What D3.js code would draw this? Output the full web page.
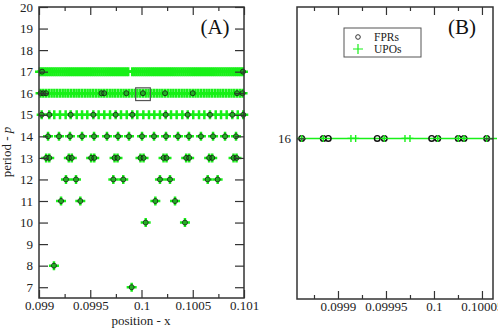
<!DOCTYPE html>
<html><head><meta charset="utf-8">
<script src="https://cdn.jsdelivr.net/npm/d3@7"></script>
<style>
body{margin:0;background:#fff;}
svg{display:block;}
svg text{font-family:"Liberation Serif","Times New Roman","DejaVu Serif",serif;}
</style></head>
<body><svg id="c" width="498" height="330"></svg>
<script>
// ---------- Panel A data (position x for each period p) ----------
const upo7  = [0.099904];
const upo8  = [0.099146];
const upo10 = [0.100041,0.100424];
const upo11 = [0.099215,0.099403,0.100135,0.100327];
const upo12 = [0.099263,0.099361,0.099725,0.099822,0.100180,0.100278,0.100646,0.100743];
const upo13 = [0.099070,0.099100,0.099291,0.099320,0.099509,0.099539,0.099737,0.099766,
               0.099990,0.100020,0.100215,0.100244,0.100436,0.100465,0.100660,0.100690,0.100898,0.100927];
const upo14 = [0.099088,0.099195,0.099302,0.099420,0.099537,0.099663,0.099771,0.099878,0.100005,
               0.100122,0.100239,0.100356,0.100463,0.100580,0.100698,0.100815,0.100922];
const upo15 = [0.099026,0.099100,0.099149,0.099205,0.099260,0.099309,0.099368,0.099420,0.099471,
               0.099530,0.099582,0.099637,0.099693,0.099748,0.099800,0.099856,0.099910,0.099959,
               0.100018,0.100073,0.100125,0.100180,0.100236,0.100288,0.100343,0.100398,0.100451,
               0.100505,0.100561,0.100613,0.100668,0.100724,0.100776,0.100831,0.100886,0.100939,0.100993];
const upo16 = [0.099015,0.099042,0.099069,0.099096,0.099123,0.099150,0.099177,0.099204,0.099231,
               0.099258,0.099285,0.099312,0.099339,0.099366,0.099393,0.099420,0.099447,0.099474,
               0.099501,0.099528,0.099555,0.099582,0.099609,0.099636,0.099663,0.099690,0.099717,
               0.099744,0.099771,0.099798,0.099825,0.099852,0.099879,0.099906,0.099933,0.099960,
               0.099987,0.100014,0.100041,0.100068,0.100095,0.100122,0.100149,0.100176,0.100203,
               0.100230,0.100257,0.100284,0.100311,0.100338,0.100365,0.100392,0.100419,0.100446,
               0.100473,0.100500,0.100527,0.100554,0.100581,0.100608,0.100635,0.100662,0.100689,
               0.100716,0.100743,0.100770,0.100797,0.100824,0.100851,0.100878,0.100905,0.100932,
               0.100959,0.100986];
const upo17 = [0.09901,0.09903,0.09905,0.09907,0.09909,0.09911,0.09913,0.09915,0.09917,0.09919,
               0.09921,0.09923,0.09925,0.09927,0.09929,0.09931,0.09933,0.09935,0.09937,0.09939,
               0.09941,0.09943,0.09945,0.09947,0.09949,0.09951,0.09953,0.09955,0.09957,0.09959,
               0.09961,0.09963,0.09965,0.09967,0.09969,0.09971,0.09973,0.09975,0.09977,0.09979,
               0.09981,0.09983,0.09985,0.09987,0.09991,0.09993,0.09995,0.09997,0.09999,
               0.10001,0.10003,0.10005,0.10007,0.10009,0.10011,0.10013,0.10015,0.10017,0.10019,
               0.10021,0.10023,0.10025,0.10027,0.10029,0.10031,0.10033,0.10035,0.10037,0.10039,
               0.10041,0.10043,0.10045,0.10047,0.10049,0.10051,0.10053,0.10055,0.10057,0.10059,
               0.10061,0.10063,0.10065,0.10067,0.10069,0.10071,0.10073,0.10075,0.10077,0.10079,
               0.10081,0.10083,0.10085,0.10087,0.10089,0.10091,0.10093,0.10095,0.10097,0.10099];
const fpr15 = [0.099026,0.099100,0.099309,0.099530,0.099748,0.099910,0.100236,
               0.100451,0.100668,0.100886,0.100993];
const fpr16 = [0.099015,0.099042,0.099069,0.099609,0.099636,0.099852,0.100014,
               0.100230,0.100500,0.100932,0.100986];
const fpr17 = [0.09903,0.10099];
const zoomBoxX = [0.099943, 0.100086];
const zoomBoxP = [15.66, 16.25];

// ---------- Panel B data (period 16, zoomed) ----------
const fprB = [0.0998622,0.0998847,0.0998899,0.0999409,0.0999482,0.0999976,0.1000039,
              0.1000253,0.1000313,0.1000549];
const upoB = [0.0998622,0.0998847,0.0999135,0.0999184,0.0999482,0.0999698,0.0999750,
              0.1000039,0.1000253,0.1000313,0.1000549];
const periodB = 16;

// ---------- Axes ticks ----------
const xTicksA = [0.099,0.0995,0.1,0.1005,0.101];
const xTickLabelsA = ["0.099","0.0995","0.1","0.1005","0.101"];
const xMinorA = [0.09925,0.09975,0.10025,0.10075];
const yTicksA = [7,8,9,10,11,12,13,14,15,16,17,18,19,20];
const xTicksB = [0.0999,0.09995,0.1,0.10005];
const xTickLabelsB = ["0.0999","0.09995","0.1","0.10005"];
const xMinorB = [0.099875,0.099925,0.099975,0.100025];
const yTicksB = [16];

const GREEN = "#18f018";
const FONT = '"Liberation Serif","Times New Roman","DejaVu Serif",serif';
const svg = d3.select("#c");

const upoRowsA = [[7,upo7],[8,upo8],[10,upo10],[11,upo11],[12,upo12],[13,upo13],[14,upo14],[15,upo15],[16,upo16],[17,upo17]];
const fprRowsA = [[7,upo7],[8,upo8],[10,upo10],[11,upo11],[12,upo12],[13,upo13],[14,upo14],[15,fpr15],[16,fpr16],[17,fpr17]];

// scales
const xA = d3.scaleLinear().domain([0.099,0.101]).range([39,244]);
const yA = d3.scaleLinear().domain([6.5,20]).range([298,7]);
const xB = d3.scaleLinear().domain([0.0998573,0.1000615]).range([297,493]);
const yB = d3.scaleLinear().domain([15.45,16.45]).range([299,7]);

function plusPath(h,v){return `M${-h},0H${h}M0,${-v}V${v}`;}

function axes(g, x, y, xt, xl, xm, yt){
  const L=x.range()[0], R=x.range()[1], T=y.range()[1], B=y.range()[0];
  const fmt = d => xl[xt.indexOf(d)];
  const style = sel => {sel.select(".domain").remove();
    sel.attr("font-family",FONT);
    sel.selectAll("line").attr("stroke","#333").attr("stroke-width",1.2);
    sel.selectAll("text").attr("font-family",FONT).attr("font-size",13).attr("fill","#222");};
  g.append("g").attr("transform",`translate(0,${B})`).call(d3.axisBottom(x).tickValues(xt).tickFormat(fmt).tickSize(-8).tickPadding(3)).call(style);
  g.append("g").attr("transform",`translate(0,${B})`).call(d3.axisBottom(x).tickValues(xm).tickFormat("").tickSize(-4)).call(style);
  g.append("g").attr("transform",`translate(0,${T})`).call(d3.axisTop(x).tickValues(xt).tickFormat("").tickSize(-8)).call(style);
  g.append("g").attr("transform",`translate(0,${T})`).call(d3.axisTop(x).tickValues(xm).tickFormat("").tickSize(-4)).call(style);
  g.append("g").attr("transform",`translate(${L},0)`).call(d3.axisLeft(y).tickValues(yt).tickFormat(d3.format("d")).tickSize(-9).tickPadding(6)).call(style);
  g.append("g").attr("transform",`translate(${R},0)`).call(d3.axisRight(y).tickValues(yt).tickFormat("").tickSize(-9)).call(style);
  g.append("rect").attr("x",L).attr("y",T).attr("width",R-L).attr("height",B-T)
    .attr("fill","none").attr("stroke","#333").attr("stroke-width",1.5);
}

// ---------- Panel A ----------
const gA = svg.append("g");
const dataFprA = fprRowsA.flatMap(([p,xs]) => xs.map(x=>({p,x})));
const dataUpoA = upoRowsA.flatMap(([p,xs]) => xs.map(x=>({p,x})));
gA.append("g").selectAll("path").data(dataUpoA).join("path")
  .attr("transform",d=>`translate(${xA(d.x)},${yA(d.p)})`)
  .attr("d",plusPath(5,4.5)).attr("stroke",GREEN).attr("stroke-width",2.5).attr("fill","none");
gA.append("g").selectAll("circle").data(dataFprA).join("circle")
  .attr("cx",d=>xA(d.x)).attr("cy",d=>yA(d.p)).attr("r",2.5)
  .attr("fill","#2f6a2f").attr("fill-opacity",0.6).attr("stroke","#111").attr("stroke-width",1).attr("opacity",0.8);
gA.append("rect").attr("x",xA(zoomBoxX[0])).attr("y",yA(zoomBoxP[1]))
  .attr("width",xA(zoomBoxX[1])-xA(zoomBoxX[0])).attr("height",yA(zoomBoxP[0])-yA(zoomBoxP[1]))
  .attr("fill","none").attr("stroke","#555").attr("stroke-width",1.2);
axes(gA,xA,yA,xTicksA,xTickLabelsA,xMinorA,yTicksA);
gA.append("text").attr("x",215).attr("y",34).attr("text-anchor","middle").attr("font-family",FONT)
  .attr("font-size",21).attr("fill","#111").text("(A)");
gA.append("text").attr("x",141).attr("y",325).attr("text-anchor","middle").attr("font-family",FONT)
  .attr("font-size",13).attr("fill","#222").text("position - x");
const yl = gA.append("text").attr("transform","translate(11,152) rotate(-90)").attr("font-family",FONT)
  .attr("text-anchor","middle").attr("font-size",13).attr("fill","#222");
yl.append("tspan").text("period - ");
yl.append("tspan").attr("font-style","italic").text("p");

// ---------- Panel B ----------
const gB = svg.append("g");
gB.append("line").attr("x1",xB.range()[0]).attr("x2",497).attr("y1",yB(periodB)).attr("y2",yB(periodB))
  .attr("stroke",GREEN).attr("stroke-width",1.5);
gB.append("g").selectAll("circle").data(fprB).join("circle")
  .attr("cx",d=>xB(d)).attr("cy",yB(periodB)).attr("r",2.8)
  .attr("fill","none").attr("stroke","#111").attr("stroke-width",1.4);
gB.append("g").selectAll("path").data(upoB).join("path")
  .attr("transform",d=>`translate(${xB(d)},${yB(periodB)})`)
  .attr("d",plusPath(3.5,3.5)).attr("stroke",GREEN).attr("stroke-width",1.4).attr("fill","none");
axes(gB,xB,yB,xTicksB,xTickLabelsB,xMinorB,yTicksB);
gB.append("text").attr("x",462).attr("y",34).attr("text-anchor","middle").attr("font-family",FONT)
  .attr("font-size",21).attr("fill","#111").text("(B)");
// legend
const lg = gB.append("g");
lg.append("rect").attr("x",344).attr("y",28).attr("width",77).attr("height",29)
  .attr("fill","#fff").attr("stroke","#555").attr("stroke-width",1);
lg.append("circle").attr("cx",358).attr("cy",37).attr("r",2.3).attr("fill","none").attr("stroke","#333").attr("stroke-width",1);
lg.append("path").attr("transform","translate(358,49)").attr("d",plusPath(5,5)).attr("stroke",GREEN).attr("stroke-width",1.2);
lg.append("text").attr("x",374).attr("y",41).attr("font-family",FONT).attr("font-size",11.5).attr("fill","#222").text("FPRs");
lg.append("text").attr("x",374).attr("y",53).attr("font-family",FONT).attr("font-size",11.5).attr("fill","#222").text("UPOs");
</script></body></html>
